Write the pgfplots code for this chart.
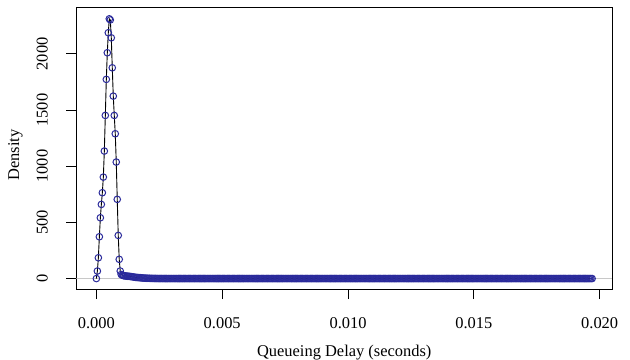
\documentclass[border=0pt]{standalone}
\usepackage{pgfplots}
\pgfplotsset{compat=1.18}
\usepackage{pgfplotstable}
\usepackage{fontspec}
\setmainfont{Liberation Serif}
\definecolor{rblue}{RGB}{42,42,155}
\definecolor{rgray}{RGB}{200,200,200}

\pgfplotstableread[row sep=\\]{
x y\\
0.0000000 0\\ 0.0000395 67\\ 0.0000790 185\\ 0.0001185 372\\ 0.0001580 541\\
0.0001975 660\\ 0.0002370 764\\ 0.0002765 903\\ 0.0003160 1135\\ 0.0003555 1452\\
0.0003950 1773\\ 0.0004345 2010\\ 0.0004740 2188\\ 0.0005135 2312\\ 0.0005530 2302\\
0.0005925 2143\\ 0.0006320 1876\\ 0.0006715 1624\\ 0.0007110 1452\\ 0.0007505 1289\\
0.0007900 1037\\ 0.0008295 705\\ 0.0008690 384\\ 0.0009085 171\\ 0.0009480 67\\
0.0009875 36\\
0.00103 30\\ 0.00107 27\\ 0.00110 25\\ 0.00115 23\\ 0.00120 22\\ 0.00125 21\\ 0.00130 20\\ 0.00135 18\\ 0.00140 17\\ 0.00145 15\\
0.00150 13\\ 0.00155 11\\ 0.00160 10\\ 0.00165 9\\ 0.00170 8\\ 0.00175 7\\ 0.00180 6\\ 0.00185 5\\ 0.00190 4\\ 0.00195 3.5\\
0.00200 3\\ 0.00205 2.5\\ 0.00210 2\\ 0.00215 1.8\\ 0.00220 1.5\\ 0.00225 1.2\\ 0.00230 1\\ 0.00235 0.8\\ 0.00240 0.5\\ 0.00245 0.4\\
0.00250 0.3\\ 0.00255 0.2\\ 0.00260 0.2\\ 0.00265 0.1\\ 0.00270 0.1\\ 0.00275 0\\ 0.00280 0\\ 0.00285 0\\ 0.00290 0\\ 0.00295 0\\
0.00300 0\\ 0.00305 0\\ 0.00310 0\\ 0.00315 0\\ 0.00320 0\\ 0.00325 0\\ 0.00330 0\\ 0.00335 0\\ 0.00340 0\\ 0.00345 0\\
0.00350 0\\ 0.00355 0\\ 0.00360 0\\ 0.00365 0\\ 0.00370 0\\ 0.00375 0\\ 0.00380 0\\ 0.00385 0\\ 0.00390 0\\ 0.00395 0\\
0.00400 0\\ 0.00405 0\\ 0.00410 0\\ 0.00415 0\\ 0.00420 0\\ 0.00425 0\\ 0.00430 0\\ 0.00435 0\\ 0.00440 0\\ 0.00445 0\\
0.00450 0\\ 0.00455 0\\ 0.00460 0\\ 0.00465 0\\ 0.00470 0\\ 0.00475 0\\ 0.00480 0\\ 0.00485 0\\ 0.00490 0\\ 0.00495 0\\
0.00500 0\\ 0.00505 0\\ 0.00510 0\\ 0.00515 0\\ 0.00520 0\\ 0.00525 0\\ 0.00530 0\\ 0.00535 0\\ 0.00540 0\\ 0.00545 0\\
0.00550 0\\ 0.00555 0\\ 0.00560 0\\ 0.00565 0\\ 0.00570 0\\ 0.00575 0\\ 0.00580 0\\ 0.00585 0\\ 0.00590 0\\ 0.00595 0\\
0.00600 0\\ 0.00605 0\\ 0.00610 0\\ 0.00615 0\\ 0.00620 0\\ 0.00625 0\\ 0.00630 0\\ 0.00635 0\\ 0.00640 0\\ 0.00645 0\\
0.00650 0\\ 0.00655 0\\ 0.00660 0\\ 0.00665 0\\ 0.00670 0\\ 0.00675 0\\ 0.00680 0\\ 0.00685 0\\ 0.00690 0\\ 0.00695 0\\
0.00700 0\\ 0.00705 0\\ 0.00710 0\\ 0.00715 0\\ 0.00720 0\\ 0.00725 0\\ 0.00730 0\\ 0.00735 0\\ 0.00740 0\\ 0.00745 0\\
0.00750 0\\ 0.00755 0\\ 0.00760 0\\ 0.00765 0\\ 0.00770 0\\ 0.00775 0\\ 0.00780 0\\ 0.00785 0\\ 0.00790 0\\ 0.00795 0\\
0.00800 0\\ 0.00805 0\\ 0.00810 0\\ 0.00815 0\\ 0.00820 0\\ 0.00825 0\\ 0.00830 0\\ 0.00835 0\\ 0.00840 0\\ 0.00845 0\\
0.00850 0\\ 0.00855 0\\ 0.00860 0\\ 0.00865 0\\ 0.00870 0\\ 0.00875 0\\ 0.00880 0\\ 0.00885 0\\ 0.00890 0\\ 0.00895 0\\
0.00900 0\\ 0.00905 0\\ 0.00910 0\\ 0.00915 0\\ 0.00920 0\\ 0.00925 0\\ 0.00930 0\\ 0.00935 0\\ 0.00940 0\\ 0.00945 0\\
0.00950 0\\ 0.00955 0\\ 0.00960 0\\ 0.00965 0\\ 0.00970 0\\ 0.00975 0\\ 0.00980 0\\ 0.00985 0\\ 0.00990 0\\ 0.00995 0\\
0.01000 0\\ 0.01005 0\\ 0.01010 0\\ 0.01015 0\\ 0.01020 0\\ 0.01025 0\\ 0.01030 0\\ 0.01035 0\\ 0.01040 0\\ 0.01045 0\\
0.01050 0\\ 0.01055 0\\ 0.01060 0\\ 0.01065 0\\ 0.01070 0\\ 0.01075 0\\ 0.01080 0\\ 0.01085 0\\ 0.01090 0\\ 0.01095 0\\
0.01100 0\\ 0.01105 0\\ 0.01110 0\\ 0.01115 0\\ 0.01120 0\\ 0.01125 0\\ 0.01130 0\\ 0.01135 0\\ 0.01140 0\\ 0.01145 0\\
0.01150 0\\ 0.01155 0\\ 0.01160 0\\ 0.01165 0\\ 0.01170 0\\ 0.01175 0\\ 0.01180 0\\ 0.01185 0\\ 0.01190 0\\ 0.01195 0\\
0.01200 0\\ 0.01205 0\\ 0.01210 0\\ 0.01215 0\\ 0.01220 0\\ 0.01225 0\\ 0.01230 0\\ 0.01235 0\\ 0.01240 0\\ 0.01245 0\\
0.01250 0\\ 0.01255 0\\ 0.01260 0\\ 0.01265 0\\ 0.01270 0\\ 0.01275 0\\ 0.01280 0\\ 0.01285 0\\ 0.01290 0\\ 0.01295 0\\
0.01300 0\\ 0.01305 0\\ 0.01310 0\\ 0.01315 0\\ 0.01320 0\\ 0.01325 0\\ 0.01330 0\\ 0.01335 0\\ 0.01340 0\\ 0.01345 0\\
0.01350 0\\ 0.01355 0\\ 0.01360 0\\ 0.01365 0\\ 0.01370 0\\ 0.01375 0\\ 0.01380 0\\ 0.01385 0\\ 0.01390 0\\ 0.01395 0\\
0.01400 0\\ 0.01405 0\\ 0.01410 0\\ 0.01415 0\\ 0.01420 0\\ 0.01425 0\\ 0.01430 0\\ 0.01435 0\\ 0.01440 0\\ 0.01445 0\\
0.01450 0\\ 0.01455 0\\ 0.01460 0\\ 0.01465 0\\ 0.01470 0\\ 0.01475 0\\ 0.01480 0\\ 0.01485 0\\ 0.01490 0\\ 0.01495 0\\
0.01500 0\\ 0.01505 0\\ 0.01510 0\\ 0.01515 0\\ 0.01520 0\\ 0.01525 0\\ 0.01530 0\\ 0.01535 0\\ 0.01540 0\\ 0.01545 0\\
0.01550 0\\ 0.01555 0\\ 0.01560 0\\ 0.01565 0\\ 0.01570 0\\ 0.01575 0\\ 0.01580 0\\ 0.01585 0\\ 0.01590 0\\ 0.01595 0\\
0.01600 0\\ 0.01605 0\\ 0.01610 0\\ 0.01615 0\\ 0.01620 0\\ 0.01625 0\\ 0.01630 0\\ 0.01635 0\\ 0.01640 0\\ 0.01645 0\\
0.01650 0\\ 0.01655 0\\ 0.01660 0\\ 0.01665 0\\ 0.01670 0\\ 0.01675 0\\ 0.01680 0\\ 0.01685 0\\ 0.01690 0\\ 0.01695 0\\
0.01700 0\\ 0.01705 0\\ 0.01710 0\\ 0.01715 0\\ 0.01720 0\\ 0.01725 0\\ 0.01730 0\\ 0.01735 0\\ 0.01740 0\\ 0.01745 0\\
0.01750 0\\ 0.01755 0\\ 0.01760 0\\ 0.01765 0\\ 0.01770 0\\ 0.01775 0\\ 0.01780 0\\ 0.01785 0\\ 0.01790 0\\ 0.01795 0\\
0.01800 0\\ 0.01805 0\\ 0.01810 0\\ 0.01815 0\\ 0.01820 0\\ 0.01825 0\\ 0.01830 0\\ 0.01835 0\\ 0.01840 0\\ 0.01845 0\\
0.01850 0\\ 0.01855 0\\ 0.01860 0\\ 0.01865 0\\ 0.01870 0\\ 0.01875 0\\ 0.01880 0\\ 0.01885 0\\ 0.01890 0\\ 0.01895 0\\
0.01900 0\\ 0.01905 0\\ 0.01910 0\\ 0.01915 0\\ 0.01920 0\\ 0.01925 0\\ 0.01930 0\\ 0.01935 0\\ 0.01940 0\\ 0.01945 0\\
0.01950 0\\ 0.01955 0\\ 0.01960 0\\ 0.01965 0\\ 0.01970 0\\
}\densitydata

\begin{document}
\begin{tikzpicture}
\useasboundingbox (-76.5bp,-71bp) rectangle (553.5bp,289bp);
\begin{axis}[
  scale only axis,
  width=535.5bp, height=281.3bp,
  xmin=-0.00079, xmax=0.02049,
  ymin=-93, ymax=2411,
  axis line style={black, line width=0.8bp},
  tick align=outside,
  major tick length=10bp,
  tick style={black, line width=0.8bp},
  xtick pos=bottom, ytick pos=left,
  minor tick num=0,
  scaled x ticks=false, scaled y ticks=false,
  xtick={0,0.005,0.01,0.015,0.02},
  xticklabels={0.000,0.005,0.010,0.015,0.020},
  ytick={0,500,1000,1500,2000},
  yticklabels={0,500,1000,1500,2000},
  xticklabel style={font=\fontsize{16.5}{19}\selectfont, anchor=north, inner sep=0pt},
  yticklabel style={font=\fontsize{16.5}{19}\selectfont, rotate=90, anchor=south, inner sep=0pt},
  xticklabel shift=18.7bp,
  yticklabel shift=18.5bp,
  every axis x label/.style={at={(axis description cs:0.5,-0.1973)}, anchor=north, inner sep=0pt, font=\fontsize{16.5}{19}\selectfont},
  every axis y label/.style={at={(axis description cs:-0.1072,0.476)}, rotate=90, anchor=base, inner sep=0pt, font=\fontsize{16.5}{19}\selectfont},
  xlabel={Queueing Delay (seconds)},
  ylabel={Density},
  clip=true,
]
\addplot[rgray, line width=0.8bp, forget plot] coordinates {(-0.00079,0) (0.02049,0)};
\addplot[only marks, mark=o, mark size=3.3bp, rblue, mark options={line width=1bp}] table[x=x,y=y] {\densitydata};
\addplot[black, line width=0.9bp, no marks] table[x=x,y=y] {\densitydata};
\end{axis}
\end{tikzpicture}
\end{document}
